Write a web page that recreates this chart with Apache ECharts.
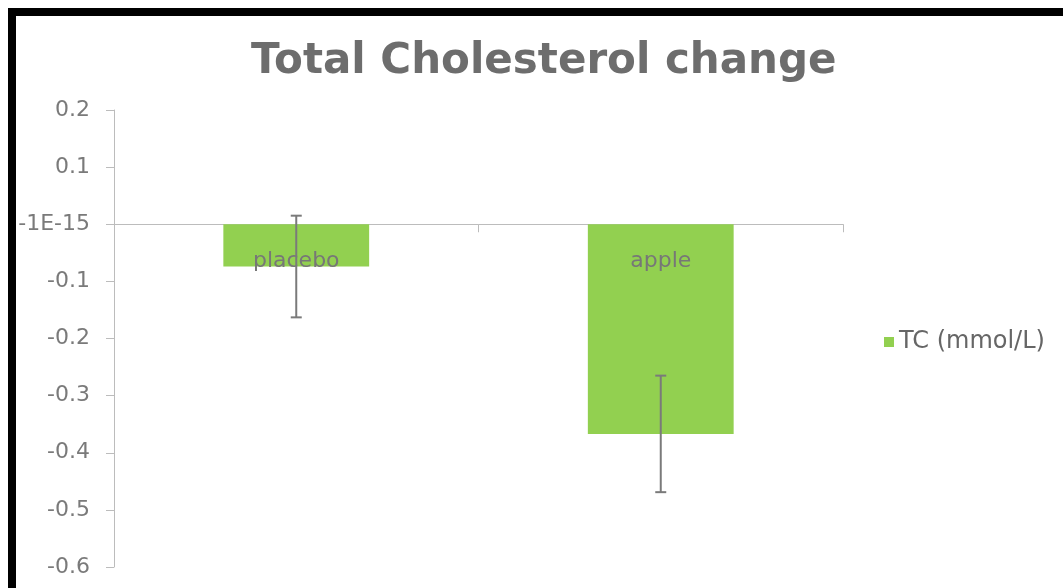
<!DOCTYPE html>
<html>
<head>
<meta charset="utf-8">
<title>Total Cholesterol change</title>
<script src="https://cdn.jsdelivr.net/npm/echarts@6/dist/echarts.min.js"></script>
<style>
  html, body { margin: 0; padding: 0; background: #fff; }
  #chart { width: 1063px; height: 588px; }
</style>
</head>
<body>
<div id="chart"></div>
<script>
// values
const categories = ['placebo', 'apple'];
const tcValues = [-0.074, -0.367];
const tcErrors = [0.089, 0.102];

const errorData = tcValues.map((v, i) => [i, v - tcErrors[i], v + tcErrors[i]]);

const chart = echarts.init(document.getElementById('chart'));

const option = {
  backgroundColor: '#fff',
  animation: false,
  title: {
    text: 'Total Cholesterol change',
    left: 246,
    top: 36,
    textStyle: {
      fontFamily: 'DejaVu Sans',
      fontWeight: 'bold',
      fontSize: 42,
      color: '#6d6d6d'
    }
  },
  legend: {
    data: ['TC (mmol/L)'],
    left: 879,
    top: 325,
    icon: 'rect',
    itemWidth: 10,
    itemHeight: 10,
    itemGap: 7,
    textStyle: {
      fontFamily: 'DejaVu Sans',
      fontSize: 24,
      color: '#666'
    }
  },
  grid: { left: 114, right: 220, top: 110, bottom: 21, containLabel: false, outerBoundsMode: 'none' },
  xAxis: {
    type: 'category',
    data: categories,
    axisLine: { onZero: true, lineStyle: { color: '#bcbcbc', width: 1 } },
    axisTick: { show: true, length: 8, lineStyle: { color: '#bcbcbc' } },
    axisLabel: { show: false }
  },
  yAxis: {
    type: 'value',
    min: -0.6,
    max: 0.2,
    interval: 0.1,
    splitLine: { show: false },
    axisLine: { show: true, lineStyle: { color: '#bcbcbc', width: 1 } },
    axisTick: { show: true, length: 8, lineStyle: { color: '#bcbcbc' } },
    axisLabel: {
      margin: 24,
      fontFamily: 'DejaVu Sans',
      fontSize: 22,
      color: '#7a7a7a',
      formatter: function (v) {
        if (Math.abs(v) < 1e-9) return '-1E-15';
        return v.toFixed(1);
      }
    }
  },
  series: [
    {
      name: 'TC (mmol/L)',
      type: 'bar',
      data: tcValues,
      barWidth: '40%',
      itemStyle: { color: '#92d050' },
      label: {
        show: true,
        position: 'insideTop',
        distance: 26,
        formatter: '{b}',
        fontFamily: 'DejaVu Sans',
        fontSize: 22,
        color: '#777'
      }
    },
    {
      name: 'error',
      type: 'custom',
      z: 5,
      data: errorData,
      renderItem: function (params, api) {
        const i = api.value(0);
        const lo = api.coord([i, api.value(1)]);
        const hi = api.coord([i, api.value(2)]);
        const half = 5.5;
        const style = { stroke: '#7a7a7a', lineWidth: 2 };
        return {
          type: 'group',
          children: [
            { type: 'line', shape: { x1: hi[0], y1: hi[1], x2: lo[0], y2: lo[1] }, style: style },
            { type: 'line', shape: { x1: hi[0] - half, y1: hi[1], x2: hi[0] + half, y2: hi[1] }, style: style },
            { type: 'line', shape: { x1: lo[0] - half, y1: lo[1], x2: lo[0] + half, y2: lo[1] }, style: style }
          ]
        };
      }
    }
  ],
  graphic: [
    { type: 'rect', z: 100, shape: { x: 8, y: 8, width: 1055, height: 8 }, style: { fill: '#000' } },
    { type: 'rect', z: 100, shape: { x: 8, y: 8, width: 8, height: 580 }, style: { fill: '#000' } }
  ]
};

chart.setOption(option);
</script>
</body>
</html>
